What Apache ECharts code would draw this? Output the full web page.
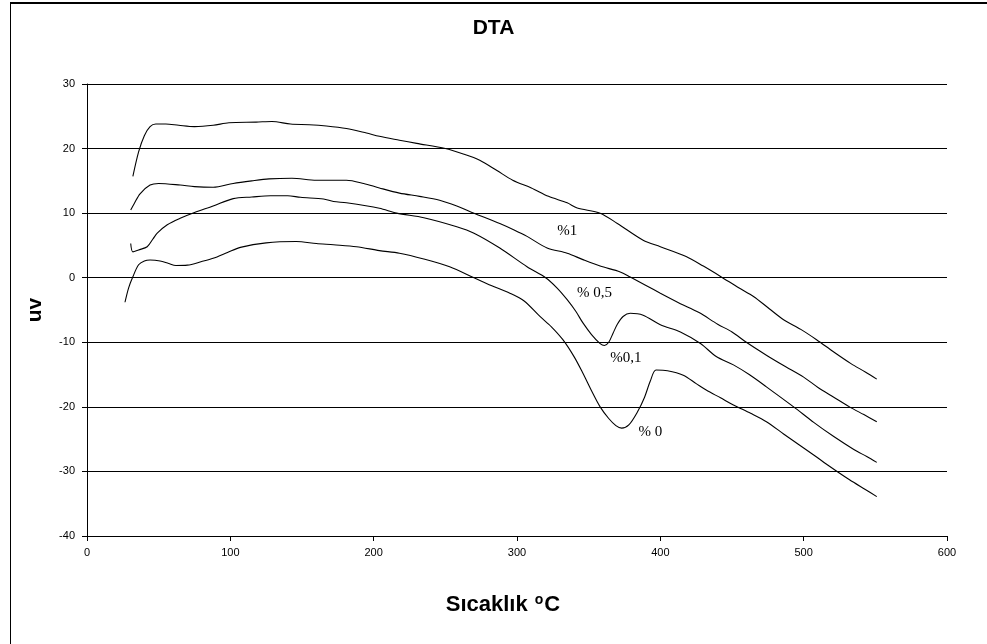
<!DOCTYPE html>
<html>
<head>
<meta charset="utf-8">
<title>DTA</title>
<script src="https://cdn.jsdelivr.net/npm/echarts@6/dist/echarts.min.js"></script>
<style>
  html, body { margin: 0; padding: 0; background: #fff; }
  #chart { width: 987px; height: 644px; }
</style>
</head>
<body>
<div id="chart"></div>
<script>
// DTA curves: temperature (°C) vs signal (uv) for four additive levels
const seriesNames = ['%1', '% 0,5', '%0,1', '% 0'];

const dta1 = [[32,15.7],[36,19.5],[40,22.0],[44,23.4],[48,23.8],[55,23.8],[64,23.6],[75,23.4],[88,23.6],[99,24.0],[118,24.1],[129,24.2],[142,23.8],[155,23.7],[167,23.5],[181,23.1],[195,22.4],[204,21.9],[218,21.3],[230,20.8],[250,20.0],[262,19.2],[274,18.2],[286,16.6],[297,15.1],[310,13.9],[322,12.6],[335,11.6],[342,10.8],[358,10.0],[370,8.4],[388,5.8],[400,4.8],[418,3.3],[430,1.8],[442,0.2],[455,-1.6],[465,-2.9],[476,-4.8],[486,-6.5],[498,-8.0],[509,-9.6],[521,-11.5],[533,-13.3],[543,-14.6],[551,-15.7]];

const dta05 = [[30.5,10.5],[33,11.5],[37,13.0],[44,14.35],[50,14.6],[65,14.35],[75,14.1],[88,14.0],[102,14.6],[115,15.0],[127,15.3],[143,15.4],[160,15.1],[181,15.1],[193,14.6],[204,13.9],[218,13.1],[232,12.6],[246,12.0],[258,11.1],[270,10.0],[288,8.4],[298,7.4],[307,6.4],[321,4.6],[335,3.8],[346,2.8],[358,1.8],[372,0.9],[379,0.1],[390,-1.2],[400,-2.4],[413,-3.9],[427,-5.4],[440,-7.2],[450,-8.4],[460,-10.0],[474,-12.0],[486,-13.6],[500,-15.4],[510,-17.0],[521,-18.5],[532,-20.0],[542,-21.2],[551,-22.3]];

const dta01 = [[30.5,5.3],[32,4.0],[36,4.3],[42,4.8],[46,6.0],[49,6.9],[56,8.2],[65,9.2],[75,10.1],[88,11.1],[102,12.25],[115,12.5],[128,12.7],[140,12.7],[149,12.45],[165,12.2],[172,11.8],[181,11.6],[204,10.75],[216,10.0],[235,9.3],[258,7.9],[270,6.9],[288,4.6],[307,1.7],[320,0.0],[328,-1.6],[335,-3.4],[341,-5.2],[346,-7.0],[352,-8.8],[358,-10.2],[361,-10.5],[364,-10.0],[367,-8.6],[370,-7.2],[374,-6.0],[379,-5.5],[388,-5.8],[400,-7.3],[414,-8.4],[428,-10.2],[439,-12.2],[451,-13.5],[462,-15.0],[474,-16.9],[493,-20.0],[507,-22.4],[521,-24.6],[535,-26.6],[544,-27.7],[551,-28.6]];

const dta0 = [[26.5,-3.8],[29,-1.6],[32,0.15],[36,2.0],[40,2.6],[44,2.75],[51,2.6],[57,2.2],[62,1.9],[70,1.95],[80,2.5],[88,3.0],[98,3.9],[107,4.7],[125,5.4],[146,5.6],[160,5.3],[172,5.1],[188,4.8],[204,4.2],[218,3.8],[235,2.9],[253,1.7],[270,0.0],[282,-1.2],[295,-2.4],[305,-3.6],[316,-6.0],[324,-7.6],[332,-9.6],[340,-12.3],[346,-14.8],[352,-17.5],[358,-20.0],[364,-21.8],[369,-22.9],[373,-23.3],[378,-22.8],[384,-20.8],[389,-18.5],[393,-16.0],[397,-14.3],[405,-14.4],[416,-15.1],[425,-16.4],[432,-17.4],[442,-18.6],[451,-19.7],[463,-21.0],[474,-22.3],[486,-24.2],[497,-25.9],[508,-27.6],[518,-29.2],[532,-31.3],[543,-32.8],[551,-33.9]];

const seriesData = [dta1, dta05, dta01, dta0];

// where each curve's name is written (temperature, uv)
const nameAnchors = [[335, 7.2], [354, -2.4], [376, -12.4], [393, -23.9]];

const xTicks = { min: 0, max: 600, step: 100 };
const yTicks = { min: -40, max: 30, step: 10 };

const chart = echarts.init(document.getElementById('chart'), null, { renderer: 'canvas' });

const sans = 'Liberation Sans, Arial, sans-serif';
const serif = 'Liberation Serif, Times New Roman, serif';

chart.setOption({
  animation: false,
  backgroundColor: '#fff',
  title: {
    text: 'DTA',
    left: 'center',
    top: 18,
    padding: 0,
    textStyle: { fontFamily: sans, fontWeight: 'bold', fontSize: 21, color: '#000' }
  },
  grid: { left: 87, right: 40, top: 84, bottom: 108, containLabel: false },
  xAxis: {
    type: 'value',
    min: xTicks.min, max: xTicks.max, interval: xTicks.step,
    name: 'Sıcaklık {sup|o}C',
    nameLocation: 'middle',
    nameGap: 57,
    nameTextStyle: {
      fontFamily: sans, fontWeight: 'bold', fontSize: 22, color: '#000',
      padding: [0, 28, 0, 0],
      rich: {
        sup: { fontFamily: sans, fontWeight: 'bold', fontSize: 14, color: '#000', verticalAlign: 'top', padding: [0, 1, 10, 1] }
      }
    },
    axisLine: { show: true, onZero: false, lineStyle: { color: '#000', width: 1 } },
    axisTick: { show: true, inside: false, length: 5, lineStyle: { color: '#000' } },
    axisLabel: { fontFamily: sans, fontSize: 11, color: '#000', margin: 11 },
    splitLine: { show: false }
  },
  yAxis: {
    type: 'value',
    min: yTicks.min, max: yTicks.max, interval: yTicks.step,
    name: 'uv',
    nameLocation: 'middle',
    nameGap: 41,
    nameTextStyle: { fontFamily: sans, fontWeight: 'bold', fontSize: 21, color: '#000' },
    axisLine: { show: true, lineStyle: { color: '#000', width: 1 } },
    axisTick: { show: true, inside: false, length: 5, lineStyle: { color: '#000' } },
    axisLabel: { fontFamily: sans, fontSize: 11, color: '#000', margin: 12 },
    splitLine: { show: true, lineStyle: { color: '#000', width: 1 } }
  },
  graphic: [
    { type: 'line', shape: { x1: 10, y1: 3, x2: 987, y2: 3 }, style: { stroke: '#000', lineWidth: 2 } },
    { type: 'line', shape: { x1: 10.5, y1: 2, x2: 10.5, y2: 644 }, style: { stroke: '#000', lineWidth: 1 } }
  ],
  series: seriesData.map((d, i) => ({
    name: seriesNames[i],
    type: 'line',
    data: d,
    showSymbol: false,
    smooth: 0.3,
    lineStyle: { color: '#000', width: 1.1 },
    markPoint: {
      symbol: 'circle',
      symbolSize: 0,
      data: [{ coord: nameAnchors[i], value: seriesNames[i] }],
      label: {
        show: true,
        position: 'inside',
        formatter: seriesNames[i],
        fontFamily: serif,
        fontSize: 15,
        color: '#000'
      }
    }
  }))
});
</script>
</body>
</html>
